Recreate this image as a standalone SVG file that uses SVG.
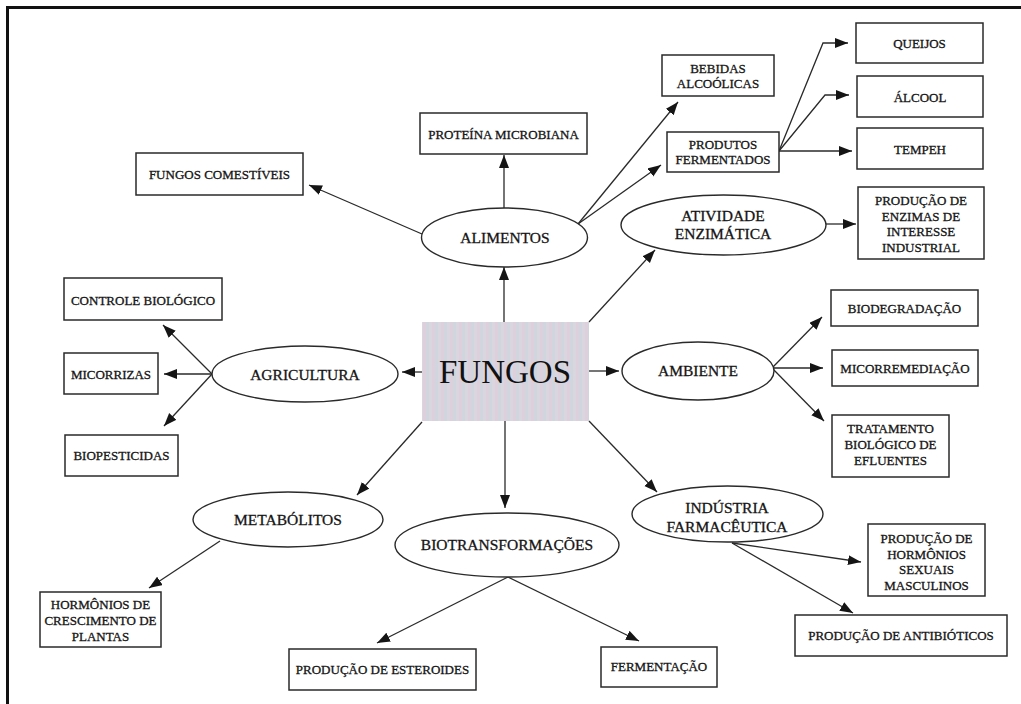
<svg xmlns="http://www.w3.org/2000/svg" width="1021" height="704" viewBox="0 0 1021 704">
<style>
.box{fill:#ffffff;stroke:#2a2a2a;stroke-width:1.5}
.ell{fill:#ffffff;stroke:#2a2a2a;stroke-width:1.4}
.t{font-family:"Liberation Serif","Times New Roman",serif;font-size:13px;fill:#151515;stroke:#151515;stroke-width:0.3;text-anchor:middle}
.te{font-family:"Liberation Serif","Times New Roman",serif;font-size:15.5px;fill:#151515;stroke:#151515;stroke-width:0.3;text-anchor:middle}
.tc{font-family:"Liberation Serif","Times New Roman",serif;font-size:33px;fill:#111;text-anchor:middle}
.c{fill:none;stroke:#2a2a2a;stroke-width:1.3;marker-end:url(#ah)}
</style>
<defs>
<marker id="ah" markerUnits="userSpaceOnUse" markerWidth="14" markerHeight="11" refX="13" refY="5" orient="auto">
<path d="M0,0 L13,5 L0,10 z" fill="#151515"/>
</marker>
<pattern id="stripes" patternUnits="userSpaceOnUse" width="9" height="9">
<rect width="9" height="9" fill="#d9d6df"/>
<rect x="0" width="3" height="9" fill="#ddd0dc"/>
<rect x="3" width="3" height="9" fill="#cfd6de"/>
</pattern>
</defs>
<rect width="1021" height="704" fill="#ffffff"/>
<rect x="6" y="6" width="1015" height="3" fill="#111"/>
<rect x="6" y="6" width="3" height="698" fill="#111"/>

<g id="connectors">
<path class="c" d="M504,322 L504,267"/>
<path class="c" d="M504,208 L504,155"/>
<path class="c" d="M422,234 L309,185"/>
<path class="c" d="M578,224 L678,102"/>
<path class="c" d="M578,224 L661,165"/>
<path class="c" d="M779,151 L823,43 L848,43"/>
<path class="c" d="M779,151 L825,95 L849,95"/>
<path class="c" d="M779,151 L852,151"/>
<path class="c" d="M589,322 L655,250"/>
<path class="c" d="M826,224 L856,224"/>
<path class="c" d="M589,371 L619,371"/>
<path class="c" d="M772,368 L822,317"/>
<path class="c" d="M774,368 L823,368"/>
<path class="c" d="M772,368 L824,421"/>
<path class="c" d="M589,421 L657,492"/>
<path class="c" d="M732,543 L861,562"/>
<path class="c" d="M732,543 L853,613"/>
<path class="c" d="M505,421 L505,508"/>
<path class="c" d="M508,577 L377,643"/>
<path class="c" d="M508,577 L639,641"/>
<path class="c" d="M422,422 L357,495"/>
<path class="c" d="M220,541 L149,588"/>
<path class="c" d="M422,372 L402,372"/>
<path class="c" d="M212,374 L163,325"/>
<path class="c" d="M212,374 L164,374"/>
<path class="c" d="M212,374 L164,426"/>
</g>

<g id="fungos">
<rect x="422" y="322" width="167" height="99" fill="url(#stripes)"/>
<text class="tc" x="505" y="383">FUNGOS</text>
</g>

<g id="alimentos">
<ellipse class="ell" cx="504.5" cy="237.5" rx="83" ry="29.5"/>
<text class="te" x="505" y="243">ALIMENTOS</text>
</g>
<g id="proteina">
<rect class="box" x="420" y="113" width="167" height="41"/>
<text class="t" x="503.5" y="138.5">PROTEÍNA MICROBIANA</text>
</g>
<g id="fungos-comestiveis">
<rect class="box" x="136" y="153" width="167" height="42"/>
<text class="t" x="219.5" y="179">FUNGOS COMESTÍVEIS</text>
</g>
<g id="bebidas">
<rect class="box" x="662" y="55" width="112" height="41"/>
<text class="t" x="718" y="73">BEBIDAS</text>
<text class="t" x="718" y="88">ALCOÓLICAS</text>
</g>
<g id="produtos">
<rect class="box" x="667" y="132" width="112" height="40"/>
<text class="t" x="723" y="149">PRODUTOS</text>
<text class="t" x="723" y="164">FERMENTADOS</text>
</g>
<g id="queijos">
<rect class="box" x="856" y="23" width="127" height="40"/>
<text class="t" x="919.5" y="47.5">QUEIJOS</text>
</g>
<g id="alcool">
<rect class="box" x="857" y="76" width="126" height="41"/>
<text class="t" x="920" y="102">ÁLCOOL</text>
</g>
<g id="tempeh">
<rect class="box" x="857" y="128" width="126" height="41"/>
<text class="t" x="920" y="153.5">TEMPEH</text>
</g>
<g id="atividade">
<ellipse class="ell" cx="723.5" cy="225" rx="102.5" ry="30"/>
<text class="te" x="723" y="221">ATIVIDADE</text>
<text class="te" x="723" y="239">ENZIMÁTICA</text>
</g>
<g id="enzimas">
<rect class="box" x="858" y="187" width="126" height="72"/>
<text class="t" x="921" y="205">PRODUÇÃO DE</text>
<text class="t" x="921" y="220.5">ENZIMAS DE</text>
<text class="t" x="921" y="236">INTERESSE</text>
<text class="t" x="921" y="251.5">INDUSTRIAL</text>
</g>
<g id="ambiente">
<ellipse class="ell" cx="698" cy="371" rx="76" ry="29"/>
<text class="te" x="698" y="376">AMBIENTE</text>
</g>
<g id="biodegradacao">
<rect class="box" x="831" y="290" width="147" height="36"/>
<text class="t" x="904.5" y="312.5">BIODEGRADAÇÃO</text>
</g>
<g id="micorremediacao">
<rect class="box" x="832" y="350" width="146" height="36"/>
<text class="t" x="905" y="372.5">MICORREMEDIAÇÃO</text>
</g>
<g id="tratamento">
<rect class="box" x="832" y="415" width="117" height="62"/>
<text class="t" x="890.5" y="433">TRATAMENTO</text>
<text class="t" x="890.5" y="449">BIOLÓGICO DE</text>
<text class="t" x="890.5" y="465">EFLUENTES</text>
</g>
<g id="industria">
<ellipse class="ell" cx="727.5" cy="514" rx="95.5" ry="28"/>
<text class="te" x="727" y="513">INDÚSTRIA</text>
<text class="te" x="727" y="532">FARMACÊUTICA</text>
</g>
<g id="hormonios-sexuais">
<rect class="box" x="868" y="524" width="117" height="72"/>
<text class="t" x="926.5" y="543">PRODUÇÃO DE</text>
<text class="t" x="926.5" y="558.5">HORMÔNIOS</text>
<text class="t" x="926.5" y="574">SEXUAIS</text>
<text class="t" x="926.5" y="589.5">MASCULINOS</text>
</g>
<g id="antibioticos">
<rect class="box" x="795" y="615" width="212" height="41"/>
<text class="t" x="901" y="640">PRODUÇÃO DE ANTIBIÓTICOS</text>
</g>
<g id="biotransformacoes">
<ellipse class="ell" cx="507" cy="545" rx="112" ry="32"/>
<text class="te" x="507" y="550">BIOTRANSFORMAÇÕES</text>
</g>
<g id="fermentacao">
<rect class="box" x="601" y="647" width="116" height="40"/>
<text class="t" x="659" y="671">FERMENTAÇÃO</text>
</g>
<g id="esteroides">
<rect class="box" x="289" y="649" width="187" height="41"/>
<text class="t" x="382.5" y="674">PRODUÇÃO DE ESTEROIDES</text>
</g>
<g id="metabolitos">
<ellipse class="ell" cx="288" cy="519.5" rx="95" ry="27.5"/>
<text class="te" x="288" y="525">METABÓLITOS</text>
</g>
<g id="hormonios-plantas">
<rect class="box" x="40" y="592" width="121" height="55"/>
<text class="t" x="100.5" y="609">HORMÔNIOS DE</text>
<text class="t" x="100.5" y="625">CRESCIMENTO DE</text>
<text class="t" x="100.5" y="641">PLANTAS</text>
</g>
<g id="agricultura">
<ellipse class="ell" cx="305" cy="374" rx="93" ry="28"/>
<text class="te" x="305" y="380">AGRICULTURA</text>
</g>
<g id="controle">
<rect class="box" x="64" y="278" width="158" height="42"/>
<text class="t" x="143" y="304.5">CONTROLE BIOLÓGICO</text>
</g>
<g id="micorrizas">
<rect class="box" x="64" y="353" width="94" height="41"/>
<text class="t" x="111" y="378.5">MICORRIZAS</text>
</g>
<g id="biopesticidas">
<rect class="box" x="65" y="435" width="113" height="41"/>
<text class="t" x="121.5" y="460">BIOPESTICIDAS</text>
</g>
</svg>
